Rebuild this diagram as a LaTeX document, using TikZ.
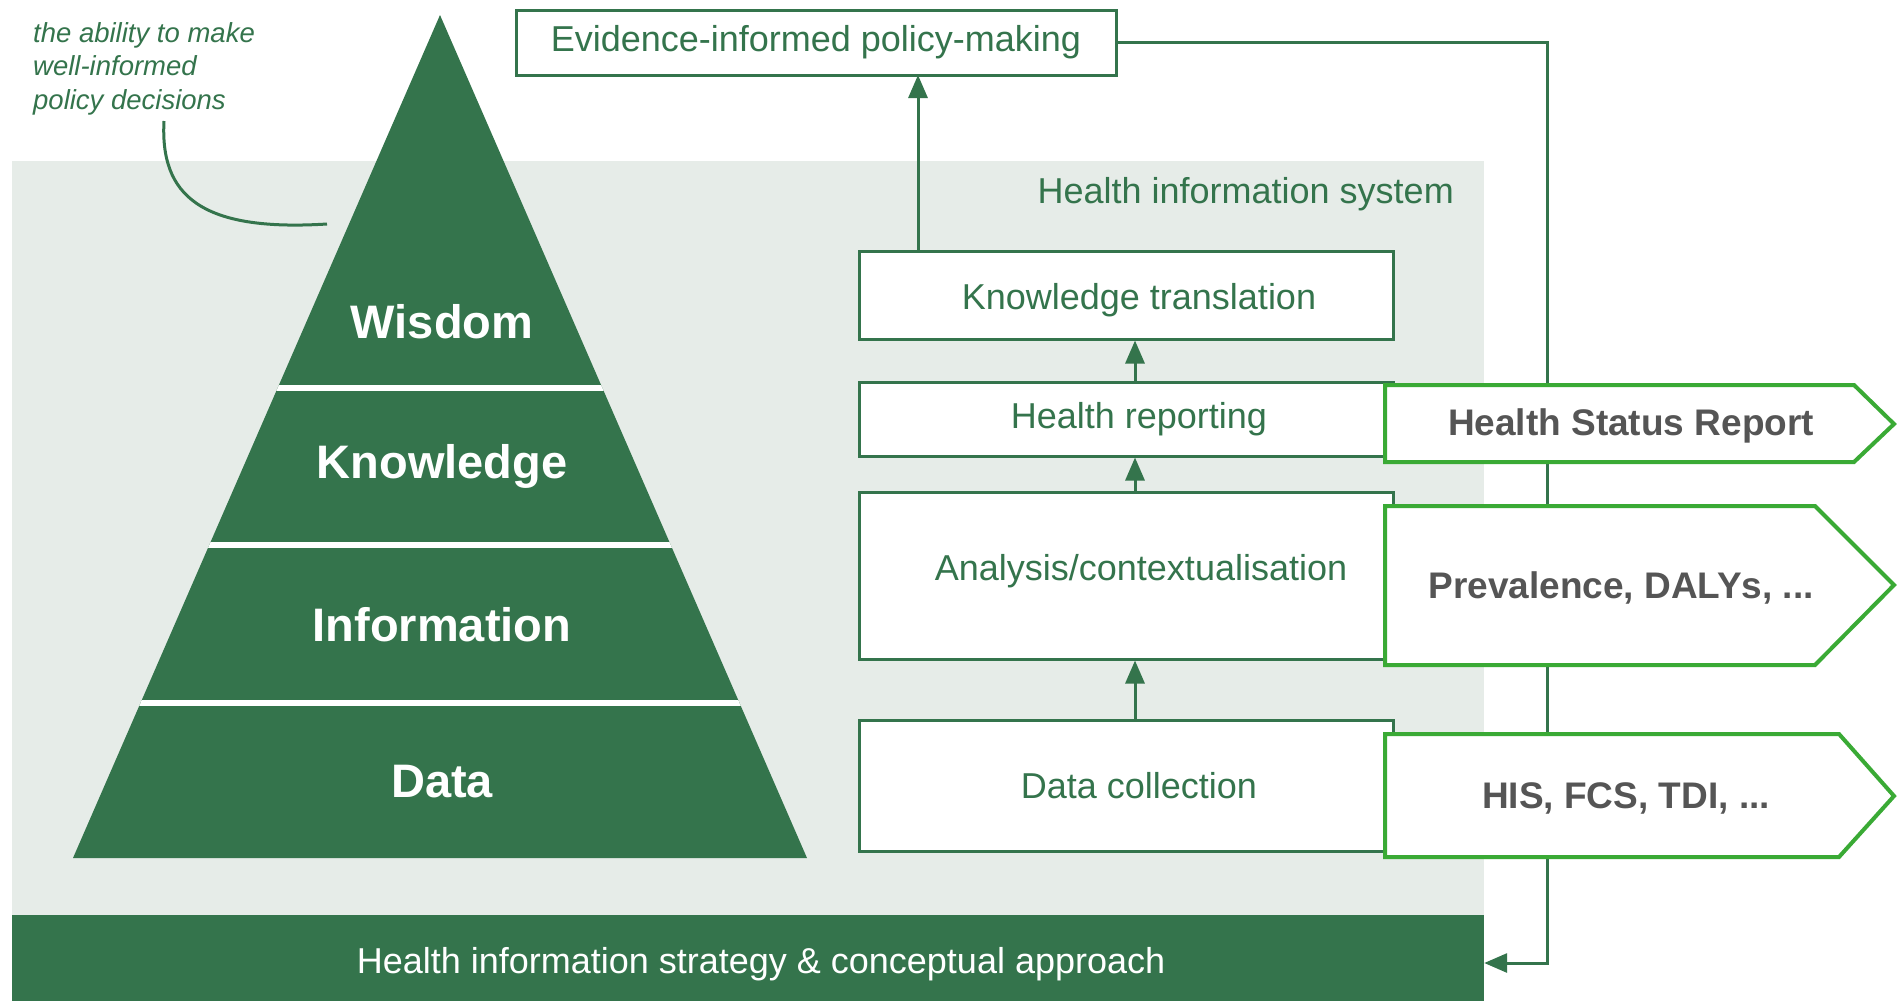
\documentclass[tikz,border=0pt]{standalone}
\usepackage{fontspec}
\setmainfont{Liberation Sans}
\usetikzlibrary{arrows.meta}
\definecolor{dkgreen}{HTML}{34744C}
\definecolor{panelgray}{HTML}{E6ECE8}
\definecolor{brgreen}{HTML}{3AAA35}
\definecolor{txtgray}{HTML}{555555}
\newcommand{\lowerby}[2]{\raisebox{-#1}[\height][\depth]{#2}}
\begin{document}
\begin{tikzpicture}[x=1pt,y=-1pt,
  box/.style={draw=dkgreen, line width=3pt, fill=white, inner sep=0pt, text=dkgreen,
    font=\fontsize{36}{40}\selectfont, minimum width=534pt},
  arr/.style={draw=dkgreen, line width=3pt, -{Triangle[length=23pt,width=19pt]}},
  pyr/.style={text=white, font=\bfseries\fontsize{47}{50}\selectfont, inner sep=0pt},
  chev/.style={draw=brgreen, line width=4pt, fill=white, line join=miter},
  chevtext/.style={text=txtgray, font=\bfseries\fontsize{37}{40}\selectfont, inner sep=0pt},
  captext/.style={text=dkgreen, font=\itshape\fontsize{27.5}{30}\selectfont, inner sep=0pt, anchor=base west}]
\useasboundingbox (0,0) rectangle (1900,1001);
\fill[white] (0,0) rectangle (1900,1001);
% panel
\fill[panelgray] (12,161) rectangle (1484,915);
% bottom bar
\node[fill=dkgreen, minimum width=1472pt, minimum height=86pt, inner sep=0pt, text=white,
  font=\fontsize{36}{40}\selectfont] (bar) at (748,958) {\hspace*{26pt}\lowerby{6pt}{Health information strategy \& conceptual approach}};
% pyramid
\begin{scope}
\clip (440,15) -- (807,858) -- (73,858) -- cycle;
\fill[dkgreen] (0,0) rectangle (900,870);
\foreach \yy in {388,545,703} \draw[white, line width=6pt] (0,\yy) -- (900,\yy);
\end{scope}
\node[pyr] (wis) at (442,322) {Wisdom};
\node[pyr] (kno) at (442,466) {Knowledge};
\node[pyr] (inf) at (442,625) {Information};
\node[pyr] (dat) at (442,782) {Data};
% callout
\node[captext] (cap1) at (33,42) {the ability to make};
\node[captext] (cap2) at (33,75.5) {well-informed};
\node[captext] (cap3) at (33,109) {policy decisions};
\coordinate (cstart) at (164,121);
\coordinate (cend) at (327,224);
\draw[dkgreen, line width=3pt] (cstart) .. controls (160,195) and (200,232) .. (cend);
% title of HIS
\node[text=dkgreen, font=\fontsize{36}{40}\selectfont, inner sep=0pt, anchor=east] (his) at (1454,194) {Health information system};
% boxes
\node[box, minimum width=600pt, minimum height=65pt] (ev) at (816,42.5) {Evidence-informed policy-making};
\node[box, minimum height=88pt] (kt) at (1126,295) {\hspace*{26pt}\lowerby{5pt}{Knowledge translation}};
\node[box, minimum height=74pt] (hr) at (1126,419) {\hspace*{26pt}Health reporting};
\node[box, minimum height=167pt] (an) at (1126,575.5) {\hspace*{30pt}\lowerby{-4pt}{Analysis/contextualisation}};
\node[box, minimum height=131pt] (dc) at (1126,785.5) {\hspace*{26pt}Data collection};
% connectors
\coordinate (evin) at (918,75);
\coordinate (ret) at (1547,500);
\draw[arr] (kt.north -| evin) -- (evin);
\draw[arr] ([xshift=9pt]hr.north) -- ([xshift=9pt]kt.south);
\draw[arr] ([xshift=9pt]an.north) -- ([xshift=9pt]hr.south);
\draw[arr] ([xshift=9pt]dc.north) -- ([xshift=9pt]an.south);
\draw[arr] (ev.east) -| (ret) |- ([yshift=-5pt]bar.east);
% chevrons
\draw[chev] (1385,385) -- (1854,385) -- (1894,424) -- (1854,462) -- (1385,462) -- cycle;
\node[chevtext] (c1) at (1631,426) {Health Status Report};
\draw[chev] (1385,506) -- (1815,506) -- (1894,585) -- (1815,665) -- (1385,665) -- cycle;
\node[chevtext] (c2) at (1621,588) {Prevalence, DALYs, ...};
\draw[chev] (1385,734) -- (1839,734) -- (1894,796) -- (1839,857) -- (1385,857) -- cycle;
\node[chevtext] (c3) at (1626,798) {HIS, FCS, TDI, ...};
\end{tikzpicture}
\end{document}
